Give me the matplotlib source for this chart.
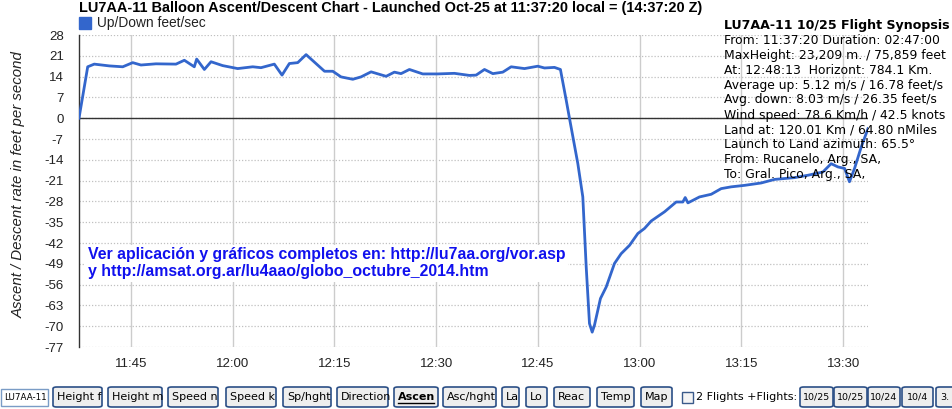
import matplotlib
matplotlib.use("Agg")
import matplotlib.pyplot as plt
from matplotlib.patches import FancyBboxPatch, Rectangle

plt.rcParams['font.family'] = 'sans-serif'
plt.rcParams['font.sans-serif'] = ['Liberation Sans', 'DejaVu Sans']

# --- data: ascent/descent rate (feet/sec) over local time ---
times = ["11:37:20", "11:38:37", "11:39:35", "11:41:48", "11:43:47", "11:45:15",
         "11:46:28", "11:48:41", "11:51:38", "11:52:52", "11:54:20", "11:54:41",
         "11:55:49", "11:56:48", "11:58:31", "12:00:44", "12:02:57", "12:04:10",
         "12:06:08", "12:07:16", "12:08:21", "12:09:35", "12:10:49", "12:13:32",
         "12:14:45", "12:15:58", "12:17:42", "12:18:55", "12:20:24", "12:22:37",
         "12:23:50", "12:24:49", "12:26:03", "12:28:01", "12:30:14", "12:32:41",
         "12:34:54", "12:35:53", "12:37:07", "12:38:21", "12:39:49", "12:41:03",
         "12:43:01", "12:44:59", "12:45:58", "12:47:26", "12:48:19", "12:49:10",
         "12:49:39", "12:50:53", "12:51:37", "12:52:07", "12:52:36", "12:53:00",
         "12:53:20", "12:54:13", "12:55:04", "12:56:17", "12:57:16", "12:58:30",
         "12:59:44", "13:00:43", "13:01:42", "13:03:40", "13:05:23", "13:06:22",
         "13:06:43", "13:07:07", "13:08:49", "13:10:33", "13:12:01", "13:13:30",
         "13:15:28", "13:17:55", "13:19:53", "13:22:50", "13:24:49", "13:27:01",
         "13:28:14", "13:29:14", "13:30:13", "13:30:56", "13:31:41", "13:32:40",
         "13:33:40"]
rate = [0.0, 17.3, 18.2, 17.6, 17.3, 18.7,
        17.9, 18.3, 18.2, 19.5, 17.3, 19.9,
        16.4, 19.0, 17.7, 16.7, 17.3, 17.0,
        18.2, 14.5, 18.4, 18.7, 21.4, 15.8,
        15.8, 13.9, 13.1, 13.9, 15.6, 14.1,
        15.5, 15.0, 16.4, 14.9, 14.9, 15.1,
        14.4, 14.5, 16.4, 15.0, 15.5, 17.3,
        16.7, 17.5, 16.9, 17.1, 16.4, 6.1,
        0.0, -15.3, -26.5, -50.0, -69.1, -72.0,
        -69.7, -60.7, -56.8, -48.9, -45.6, -42.8,
        -38.8, -37.1, -34.6, -31.5, -28.2, -28.2,
        -26.7, -28.5, -26.5, -25.6, -23.7, -23.1,
        -22.6, -21.8, -20.6, -20.0, -19.2, -18.1,
        -15.3, -16.4, -16.9, -21.4, -16.9, -9.7,
        -3.5]

y_ticks = [28, 21, 14, 7, 0, -7, -14, -21, -28, -35, -42, -49, -56, -63, -70, -77]
x_tick_labels = ["11:45", "12:00", "12:15", "12:30", "12:45", "13:00", "13:15", "13:30"]

synopsis_title = "LU7AA-11 10/25 Flight Synopsis"
synopsis_lines = [
    "From: 11:37:20 Duration: 02:47:00",
    "MaxHeight: 23,209 m. / 75,859 feet",
    "At: 12:48:13  Horizont: 784.1 Km.",
    "Average up: 5.12 m/s / 16.78 feet/s",
    "Avg. down: 8.03 m/s / 26.35 feet/s",
    "Wind speed: 78.6 Km/h / 42.5 knots",
    "Land at: 120.01 Km / 64.80 nMiles",
    "Launch to Land azimuth: 65.5\u00b0",
    "From: Rucanelo, Arg., SA,",
    "To: Gral. Pico, Arg., SA,",
]

buttons = ["Height f", "Height m", "Speed n", "Speed k", "Sp/hght", "Direction",
           "Ascen", "Asc/hght", "La", "Lo", "Reac", "Temp", "Map"]
button_x = [53, 108, 168, 226, 283, 337, 394, 443, 502, 526, 554, 597, 641]
button_w = [49, 54, 50, 50, 48, 51, 44, 53, 17, 21, 36, 37, 31]
flight_buttons = ["10/25", "10/25", "10/24", "10/4", "3."]
flight_x = [800, 834, 868, 902, 936]
flight_w = [33, 33, 32, 31, 33]


def to_min(s):
    h, m, sec = (int(p) for p in s.split(":"))
    return h * 60 + m + sec / 60.0


W, H = 952, 409
fig = plt.figure(figsize=(W / 100, H / 100), dpi=100)
ax = fig.add_axes([79 / W, 1 - 347 / H, 789 / W, 312 / H])

x = [to_min(t) for t in times]
ax.plot(x, rate, color='#3366cc', lw=2, solid_joinstyle='round', zorder=4)
ax.axhline(0, color='#333333', lw=1, zorder=3)

ax.set_xlim(x[0], x[-1])
ax.set_ylim(-77, 28)
ax.set_yticks(y_ticks)
ax.set_yticklabels([str(v) for v in y_ticks])
xt = [to_min(t + ":00") for t in x_tick_labels]
ax.set_xticks(xt)
ax.set_xticklabels(x_tick_labels)
ax.tick_params(length=0, labelsize=9.5, colors='#222222')
ax.tick_params(axis='y', pad=11)
ax.tick_params(axis='x', pad=8)

for v in y_ticks:
    ax.axhline(v, color='#c0c0c0', lw=0.9, ls=(0, (1, 1.5)), zorder=1)
for v in xt:
    ax.axvline(v, color='#cccccc', lw=1, zorder=1)

for s in ['top', 'right', 'bottom']:
    ax.spines[s].set_visible(False)
ax.spines['left'].set_color('#333333')
ax.spines['left'].set_linewidth(1)

ax.set_ylabel("Ascent / Descent rate in feet per second", style='italic',
              fontsize=10.8, color='#222222')
ax.yaxis.set_label_coords(-53 / 789, (347 - 185) / 312)

# title and legend
fig.text(79 / W, 1 - 8 / H, "LU7AA-11 Balloon Ascent/Descent Chart - Launched Oct-25 at 11:37:20 local = (14:37:20 Z)",
         fontsize=10.45, fontweight='bold', va='center', ha='left')
fig.patches.append(Rectangle((79 / W, 1 - 29 / H), 12 / W, 12 / H,
                             transform=fig.transFigure, color='#3366cc'))
fig.text(97 / W, 1 - 23 / H, "Up/Down feet/sec", fontsize=9.9, va='center', ha='left', color='#222222')

# overlay link text
ax.text(0.011, 0.269, "Ver aplicación y gráficos completos en: http://lu7aa.org/vor.asp\n"
        "y http://amsat.org.ar/lu4aao/globo_octubre_2014.htm",
        transform=ax.transAxes, color='#1010ee', fontsize=11.4, fontweight='bold',
        va='center', ha='left', linespacing=1.1, zorder=5,
        bbox=dict(facecolor='white', edgecolor='none', pad=2))

# synopsis
fig.text(724 / W, 1 - 25 / H, synopsis_title, fontsize=9.1, fontweight='bold',
         family='DejaVu Sans', va='center', ha='left')
for i, line in enumerate(synopsis_lines):
    fig.text(724 / W, 1 - (40 + 15 * i) / H, line, fontsize=8.95,
             family='DejaVu Sans', va='center', ha='left')

# bottom control bar
by0, bh = 1 - 407 / H, 20 / H
box = Rectangle((1 / W, 1 - 406 / H), 47 / W, 17 / H, transform=fig.transFigure,
                facecolor='white', edgecolor='#7a9cc6', lw=1)
fig.patches.append(box)
t = fig.text(4 / W, 1 - 397.5 / H, "LU7AA-11", fontsize=6.3, family='DejaVu Sans',
             va='center', ha='left')
t.set_clip_path(box)


def button(x0, w, label, bold=False):
    b = FancyBboxPatch((x0 / W, by0), w / W, bh, boxstyle="round,pad=0,rounding_size=0.004",
                       transform=fig.transFigure, facecolor='#eeeeee',
                       edgecolor='#2b4f86', lw=1.2)
    fig.patches.append(b)
    tx = fig.text((x0 + 4) / W, 1 - 397.5 / H, label, fontsize=8, family='DejaVu Sans',
                  va='center', ha='left', fontweight='bold' if bold else 'normal')
    tx.set_clip_path(b)
    return tx


for lab, x0, w in zip(buttons, button_x, button_w):
    tx = button(x0, w, lab, bold=(lab == "Ascen"))
    if lab == "Ascen":
        fig.lines.append(plt.Line2D([(x0 + 4) / W, (x0 + 40) / W], [1 - 403 / H] * 2,
                                    transform=fig.transFigure, color='black', lw=1))

fig.patches.append(Rectangle((682 / W, 1 - 403 / H), 11 / W, 11 / H,
                             transform=fig.transFigure, facecolor='#f4f4f4',
                             edgecolor='#3a5a8a', lw=1))
fig.text(696 / W, 1 - 397.5 / H, "2 Flights +Flights:", fontsize=8, family='DejaVu Sans',
         va='center', ha='left')
for lab, x0, w in zip(flight_buttons, flight_x, flight_w):
    b = FancyBboxPatch((x0 / W, by0), w / W, bh, boxstyle="round,pad=0,rounding_size=0.004",
                       transform=fig.transFigure, facecolor='#eeeeee',
                       edgecolor='#2b4f86', lw=1.2)
    fig.patches.append(b)
    if lab == "3.":
        tx = fig.text((x0 + 4) / W, 1 - 397.5 / H, lab, fontsize=6.8, family='DejaVu Sans',
                      va='center', ha='left')
    else:
        tx = fig.text((x0 + w / 2) / W, 1 - 397.5 / H, lab, fontsize=6.8, family='DejaVu Sans',
                      va='center', ha='center')
    tx.set_clip_path(b)

fig.savefig("out.png", dpi=100)
